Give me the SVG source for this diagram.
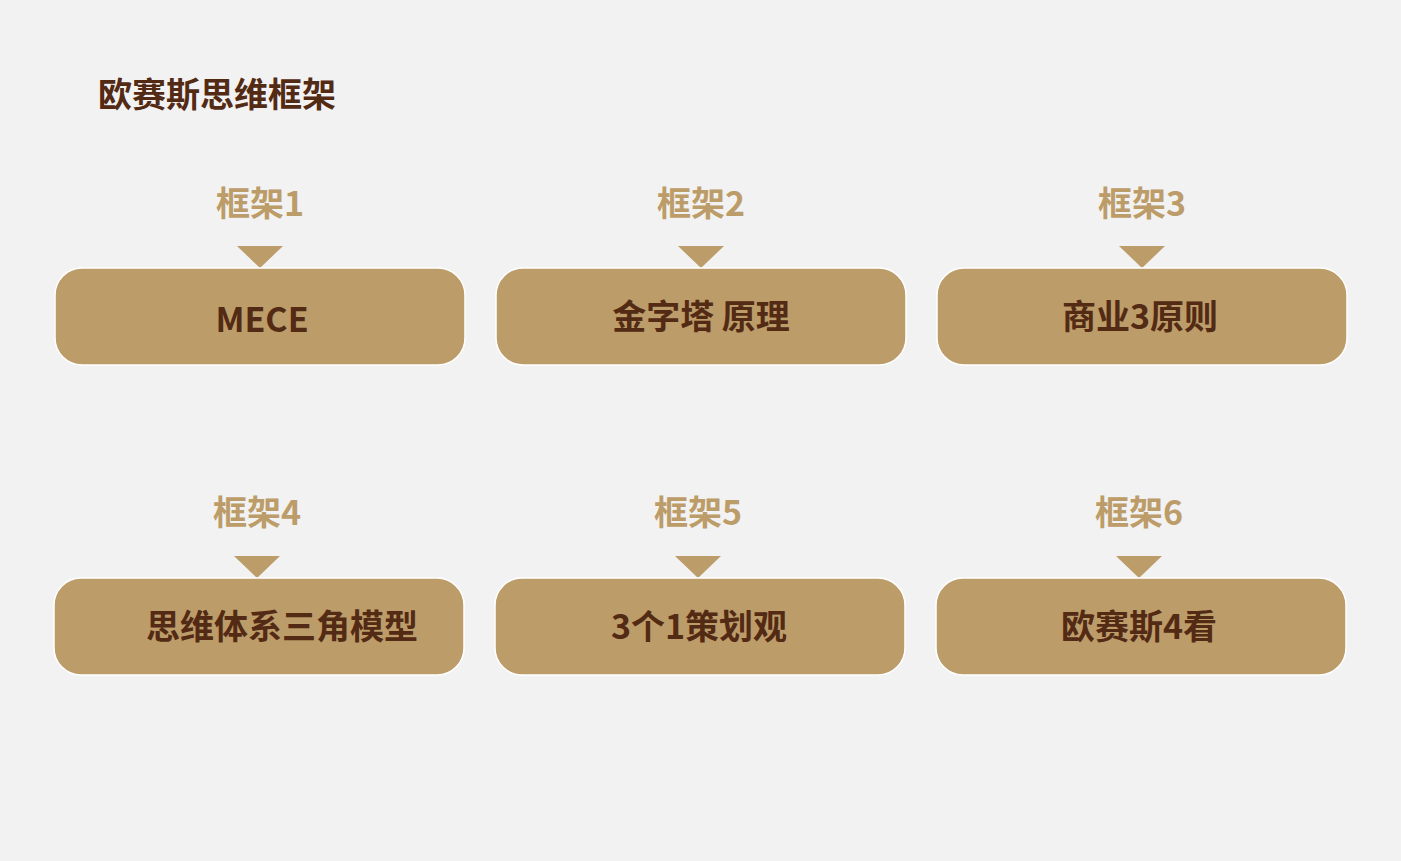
<svg xmlns="http://www.w3.org/2000/svg" width="1401" height="861" viewBox="0 0 1401 861">
<style>
.bg{fill:#f2f2f2}
.box{fill:#bc9c69;stroke:#ffffff;stroke-width:1.5}
.tri{fill:#bc9c69}
.lbl{font-family:"Noto Sans CJK SC","Noto Sans",sans-serif;font-weight:bold;font-size:34px;fill:#bc9c69;text-anchor:middle}
.txt{font-family:"Noto Sans CJK SC","Noto Sans",sans-serif;font-weight:bold;font-size:34px;fill:#532a14;text-anchor:middle}
.title{font-family:"Noto Sans CJK SC","Noto Sans",sans-serif;font-weight:bold;font-size:34px;fill:#532a14}
</style>
<rect class="bg" x="0" y="0" width="1401" height="861"/>
<text class="title" x="98" y="107">欧赛斯思维框架</text>
<g id="connectors">
<polygon class="tri" points="237,246 283,246 260,268"/>
<polygon class="tri" points="678,246 724,246 701,268"/>
<polygon class="tri" points="1119,246 1165,246 1142,268"/>
<polygon class="tri" points="234,556 280,556 257,578"/>
<polygon class="tri" points="675,556 721,556 698,578"/>
<polygon class="tri" points="1116,556 1162,556 1139,578"/>
</g>
<g id="node1">
<text class="lbl" x="260" y="216">框架1</text>
<rect class="box" x="55" y="268" width="410" height="97" rx="27"/>
<text class="txt" x="262" y="332">MECE</text>
</g>
<g id="node2">
<text class="lbl" x="701" y="216">框架2</text>
<rect class="box" x="496" y="268" width="410" height="97" rx="27"/>
<text class="txt" x="701" y="329">金字塔 原理</text>
</g>
<g id="node3">
<text class="lbl" x="1142" y="216">框架3</text>
<rect class="box" x="937" y="268" width="410" height="97" rx="27"/>
<text class="txt" x="1140" y="329">商业3原则</text>
</g>
<g id="node4">
<text class="lbl" x="257" y="525">框架4</text>
<rect class="box" x="54" y="578" width="410" height="97" rx="27"/>
<text class="txt" x="282" y="639">思维体系三角模型</text>
</g>
<g id="node5">
<text class="lbl" x="698" y="525">框架5</text>
<rect class="box" x="495" y="578" width="410" height="97" rx="27"/>
<text class="txt" x="699" y="639">3个1策划观</text>
</g>
<g id="node6">
<text class="lbl" x="1139" y="525">框架6</text>
<rect class="box" x="936" y="578" width="410" height="97" rx="27"/>
<text class="txt" x="1139" y="639">欧赛斯4看</text>
</g>
</svg>
